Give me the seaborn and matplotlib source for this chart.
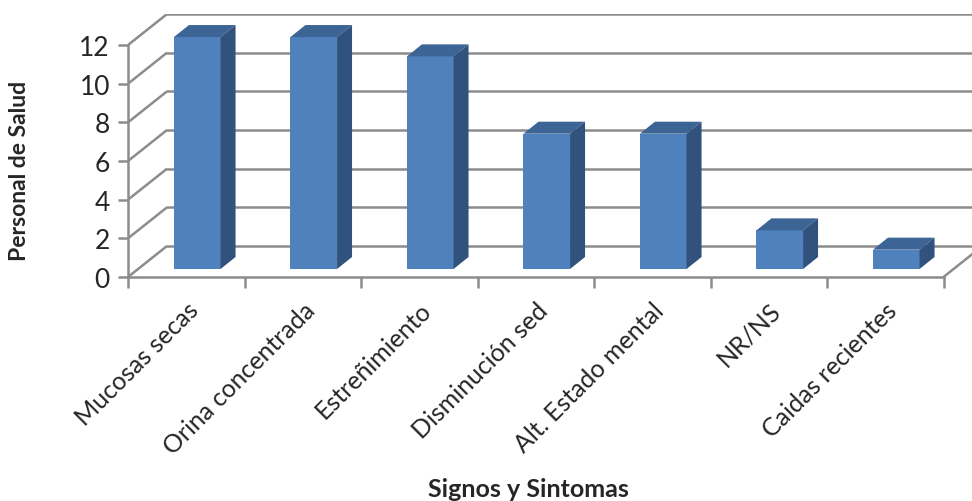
import numpy as np
import pandas as pd
import seaborn as sns
import matplotlib.pyplot as plt
from matplotlib.patches import Polygon

categories = ["Mucosas secas", "Orina concentrada", "Estreñimiento",
              "Disminución sed", "Alt. Estado mental", "NR/NS", "Caidas recientes"]
values = [12, 12, 11, 7, 7, 2, 1]
yticks = [0, 2, 4, 6, 8, 10, 12]

front_col = "#4F81BD"
top_col = "#3C6494"
side_col = "#31527C"
grid_col = "#8C8C8C"

sns.set_style("white")
plt.rcParams["font.family"] = ["Lato", "DejaVu Sans"]

W, H = 972, 502
fig = plt.figure(figsize=(W / 100, H / 100), dpi=100)
# axes area in pixels: x 128..972, y 15..278 (value 0 at 278)
ax = fig.add_axes([128 / W, (H - 278) / H, (W - 128) / W, (278 - 15) / H])

px_x = 116.5   # pixels per category
px_y = 19.33   # pixels per unit

# wall depth in data units
DX = 39 / px_x
DY = 31 / px_y

df = pd.DataFrame({"cat": categories, "val": values})
sns.barplot(data=df, x="cat", y="val", color=front_col, saturation=1,
            width=0.4, ax=ax, zorder=3, edgecolor="none")
ax.set_xlim(-0.5, -0.5 + (W - 128) / px_x)
ax.set_ylim(0, (278 - 15) / px_y)

# walls: side diagonals and back gridlines
for v in yticks:
    ax.plot([-0.5, -0.5 + DX], [v, v + DY], color=grid_col, lw=1.8, zorder=1,
            solid_capstyle="butt")
    ax.plot([-0.5 + DX, 8], [v + DY, v + DY], color=grid_col, lw=1.8, zorder=1)
ax.plot([6.5, 6.5 + DX], [0, DY], color=grid_col, lw=1.8, zorder=1)

# 3D look for bars
shift_x = 11 / px_x
shift_y = 8 / px_y
bdx = 15 / px_x
bdy = 12 / px_y
for p in ax.patches[:len(values)]:
    x0 = p.get_x() + shift_x
    h = p.get_height()
    w = p.get_width()
    p.set_x(x0)
    p.set_y(shift_y)
    y0, y1, x1 = shift_y, shift_y + h, x0 + w
    ax.add_patch(Polygon([(x0, y1), (x1, y1), (x1 + bdx, y1 + bdy), (x0 + bdx, y1 + bdy)],
                         closed=True, fc=top_col, ec="none", zorder=3))
    ax.add_patch(Polygon([(x1, y0), (x1 + bdx, y0 + bdy), (x1 + bdx, y1 + bdy), (x1, y1)],
                         closed=True, fc=side_col, ec="none", zorder=3))

# front axes
for s in ["top", "right"]:
    ax.spines[s].set_visible(False)
ax.spines["left"].set_bounds(0, 12)
ax.spines["bottom"].set_bounds(-0.5, 6.5)
for s in ["left", "bottom"]:
    ax.spines[s].set_color(grid_col)
    ax.spines[s].set_linewidth(1.8)
    ax.spines[s].set_zorder(2)

ax.set_yticks(yticks)
ax.set_yticklabels([str(v) for v in yticks], fontsize=19)
ax.tick_params(axis="y", direction="out", length=7, width=1.8, color=grid_col,
               pad=6, left=True)
ax.set_xticks(range(len(categories)))
ax.set_xticks(np.arange(-0.5, len(categories), 1.0), minor=True)
ax.set_xticklabels(categories, rotation=45, ha="right", rotation_mode="anchor",
                   fontsize=18)
ax.tick_params(axis="x", which="major", length=0, pad=15)
ax.tick_params(axis="x", which="minor", direction="out", length=8, width=1.8,
               color=grid_col, bottom=True)

ax.set_xlabel("")
ax.set_ylabel("")
fig.text(528 / W, 1 - 490 / H, "Signos y Sintomas", ha="center", va="center",
         fontsize=18, fontweight="bold")
fig.text(20 / W, 1 - 171 / H, "Personal de Salud", ha="center", va="center",
         rotation=90, fontsize=16.5, fontweight="bold")

fig.savefig("out.png", dpi=100)
